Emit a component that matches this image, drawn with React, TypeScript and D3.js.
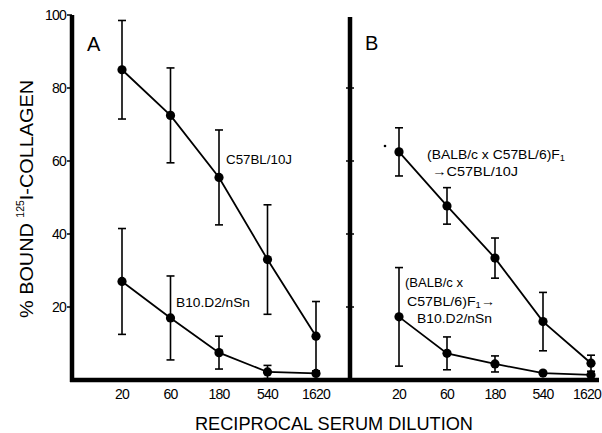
import React from "react";
import * as d3 from "d3";

const dilutions = [20, 60, 180, 540, 1620];
const dilutionLabels = ["20", "60", "180", "540", "1620"];
const yTicks = [20, 40, 60, 80, 100];

const aC57 = [85, 72.5, 55.5, 33, 12];
const aC57Err = [13.5, 13, 13, 15, 9.5];
const aB10 = [27, 17, 7.5, 2.2, 1.8];
const aB10Err = [14.5, 11.5, 4.5, 1.8, 0];

const bC57 = [62.5, 47.7, 33.4, 16, 4.6];
const bC57Err = [6.6, 5, 5.5, 8, 2.2];
const bB10 = [17.3, 7.3, 4.4, 1.9, 1.4];
const bB10Err = [13.5, 4.5, 2.2, 0, 0];

const W = 602;
const H = 433;
const FONT = "'Liberation Sans', Arial, sans-serif";

const y = d3.scaleLinear().domain([0, 100]).range([380, 15]);
const xA = d3.scaleLog().domain([20, 1620]).range([122, 316]);
const xB = d3.scaleLog().domain([20, 1620]).range([399, 591]);

type SeriesProps = { x: d3.ScaleLogarithmic<number, number>; vals: number[]; errs: number[] };

function Series({ x, vals, errs }: SeriesProps) {
  const line = d3
    .line<number>()
    .x((_, i) => x(dilutions[i]))
    .y((v) => y(v));
  return (
    <g>
      <path d={line(vals) || ""} fill="none" stroke="#000" strokeWidth={1.8} />
      {vals.map((v, i) => {
        const cx = x(dilutions[i]);
        const e = errs[i];
        if (e <= 0) return null;
        const top = y(v + e);
        const bot = y(Math.max(0, v - e));
        return (
          <g key={"e" + i} stroke="#000" strokeWidth={1.6}>
            <line x1={cx} x2={cx} y1={top} y2={bot} />
            <line x1={cx - 4} x2={cx + 4} y1={top} y2={top} />
            <line x1={cx - 4} x2={cx + 4} y1={bot} y2={bot} />
          </g>
        );
      })}
      {vals.map((v, i) => (
        <circle key={"c" + i} cx={x(dilutions[i])} cy={y(v)} r={4.6} fill="#000" />
      ))}
    </g>
  );
}

export default function App() {
  return (
    <svg width={W} height={H} style={{ display: "block", position: "absolute", left: 0, top: 0, background: "#fff" }}>
      <rect x={0} y={0} width={W} height={H} fill="#fff" />
      {/* Y axis A */}
      <line x1={72} x2={72} y1={y(100)} y2={382} stroke="#000" strokeWidth={4.5} />
      {yTicks.map((t) => (
        <g key={"ya" + t}>
          <line x1={67} x2={72} y1={y(t)} y2={y(t)} stroke="#000" strokeWidth={1.5} />
          <text x={66} y={y(t) + 5} textAnchor="end" fontFamily={FONT} fontSize={14} letterSpacing={-0.8}>
            {t}
          </text>
        </g>
      ))}
      {/* Y axis B */}
      <line x1={350} x2={350} y1={17} y2={382} stroke="#000" strokeWidth={4.5} />
      {yTicks.slice(0, 4).map((t) => (
        <line key={"yb" + t} x1={346} x2={354} y1={y(t)} y2={y(t)} stroke="#000" strokeWidth={1.5} />
      ))}
      {/* X axis */}
      <line x1={70} x2={599} y1={380} y2={380} stroke="#000" strokeWidth={4.5} />
      {dilutions.map((d, i) => (
        <g key={"xl" + d}>
          <text x={xA(d)} y={399} textAnchor="middle" fontFamily={FONT} fontSize={14} letterSpacing={-0.8}>
            {dilutionLabels[i]}
          </text>
          <text
            x={i === 4 ? 601 : xB(d)}
            y={399}
            textAnchor={i === 4 ? "end" : "middle"}
            fontFamily={FONT}
            fontSize={14}
            letterSpacing={-0.8}
          >
            {dilutionLabels[i]}
          </text>
        </g>
      ))}
      {/* Titles */}
      <text x={195} y={430} fontFamily={FONT} fontSize={19} textLength={278} lengthAdjust="spacingAndGlyphs">
        RECIPROCAL  SERUM  DILUTION
      </text>
      <text transform="translate(33,318) rotate(-90)" fontFamily={FONT} fontSize={19} textLength={238} lengthAdjust="spacingAndGlyphs">
        % BOUND <tspan fontSize={10} dy={-9}>125</tspan>
        <tspan dy={9}>I-COLLAGEN</tspan>
      </text>
      {/* Panel letters */}
      <text x={87} y={51} fontFamily={FONT} fontSize={20}>A</text>
      <text x={365} y={50} fontFamily={FONT} fontSize={20}>B</text>

      <Series x={xA} vals={aC57} errs={aC57Err} />
      <Series x={xA} vals={aB10} errs={aB10Err} />
      <Series x={xB} vals={bC57} errs={bC57Err} />
      <Series x={xB} vals={bB10} errs={bB10Err} />

      {/* Series labels */}
      <g fontFamily={FONT} fontSize={13.5}>
        <text x={226} y={164} textLength={66} lengthAdjust="spacingAndGlyphs">C57BL/10J</text>
        <text x={176} y={307} textLength={74} lengthAdjust="spacingAndGlyphs">B10.D2/nSn</text>
        <text x={427} y={159} textLength={138} lengthAdjust="spacingAndGlyphs">
          (BALB/c x C57BL/6)F<tspan fontSize={9} dy={2}>1</tspan>
        </text>
        <text x={432} y={176} textLength={86} lengthAdjust="spacingAndGlyphs">→C57BL/10J</text>
        <text x={405} y={287} textLength={58} lengthAdjust="spacingAndGlyphs">(BALB/c x</text>
        <text x={407} y={306} textLength={88} lengthAdjust="spacingAndGlyphs">
          C57BL/6)F<tspan fontSize={9} dy={2}>1</tspan>
          <tspan dy={-2}>→</tspan>
        </text>
        <text x={417} y={323} textLength={75} lengthAdjust="spacingAndGlyphs">B10.D2/nSn</text>
      </g>
      <circle cx={385} cy={146} r={1.3} fill="#000" />
    </svg>
  );
}
